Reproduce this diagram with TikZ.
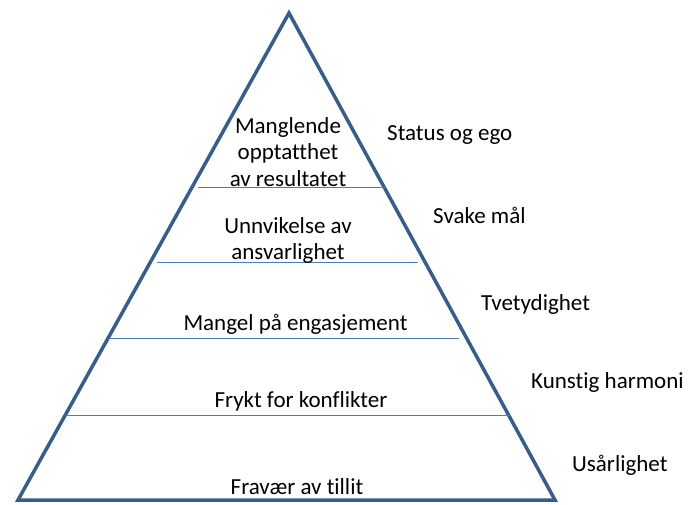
\documentclass[tikz,border=0pt]{standalone}
\usepackage{fontspec}
\setmainfont[Ligatures=NoCommon]{Carlito}
\definecolor{pyrblue}{RGB}{56,93,138}
\definecolor{pyrline}{RGB}{74,126,187}
\usetikzlibrary{positioning}

\begin{document}
\begin{tikzpicture}[x=1pt,y=-1pt,
  pyrlevel/.style={font=\fontsize{23}{26.5}\selectfont,align=center,inner sep=0pt},
  pyrsymptom/.style={font=\fontsize{23}{26.5}\selectfont,anchor=base west,inner sep=0pt},
  pyrdivider/.style={draw=pyrline,line width=1pt}
]
  \useasboundingbox (0,0) rectangle (699,504);
  \coordinate (apex) at (289,13);
  \coordinate (baseL) at (18,500);
  \coordinate (baseR) at (555,500);
  \draw[pyrblue,line width=3.5pt] (apex) -- (baseR) -- (baseL) -- cycle;

  \coordinate (div1L) at (198,187); \coordinate (div1R) at (385,187);
  \coordinate (div2L) at (157,262); \coordinate (div2R) at (418,262);
  \coordinate (div3L) at (110,338); \coordinate (div3R) at (459,338);
  \coordinate (div4L) at (66,415);  \coordinate (div4R) at (510,415);
  \draw[pyrdivider] (div1L) -- (div1R);
  \draw[pyrdivider] (div2L) -- (div2R);
  \draw[pyrdivider] (div3L) -- (div3R);
  \draw[pyrdivider] (div4L) -- (div4R);

  \node[pyrlevel] (results) at (288,152) {Manglende\\opptatthet\\av resultatet};
  \node[pyrlevel] (account) at (288,240.5) {Unnvikelse av\\ansvarlighet};
  \node[pyrlevel,anchor=base] (commit) at (295.5,330) {Mangel på engasjement};
  \node[pyrlevel,anchor=base] (conflict) at (301,407) {Frykt for konflikter};
  \node[pyrlevel,anchor=base] (trust) at (297,494) {Fravær av tillit};

  \node[pyrsymptom] (status) at (387,140) {Status og ego};
  \node[pyrsymptom] (goals) at (433,223) {Svake mål};
  \node[pyrsymptom] (ambig) at (481,310) {Tvetydighet};
  \node[pyrsymptom] (harmony) at (531,388) {Kunstig harmoni};
  \node[pyrsymptom] (invuln) at (572,471) {Usårlighet};
\end{tikzpicture}
\end{document}
